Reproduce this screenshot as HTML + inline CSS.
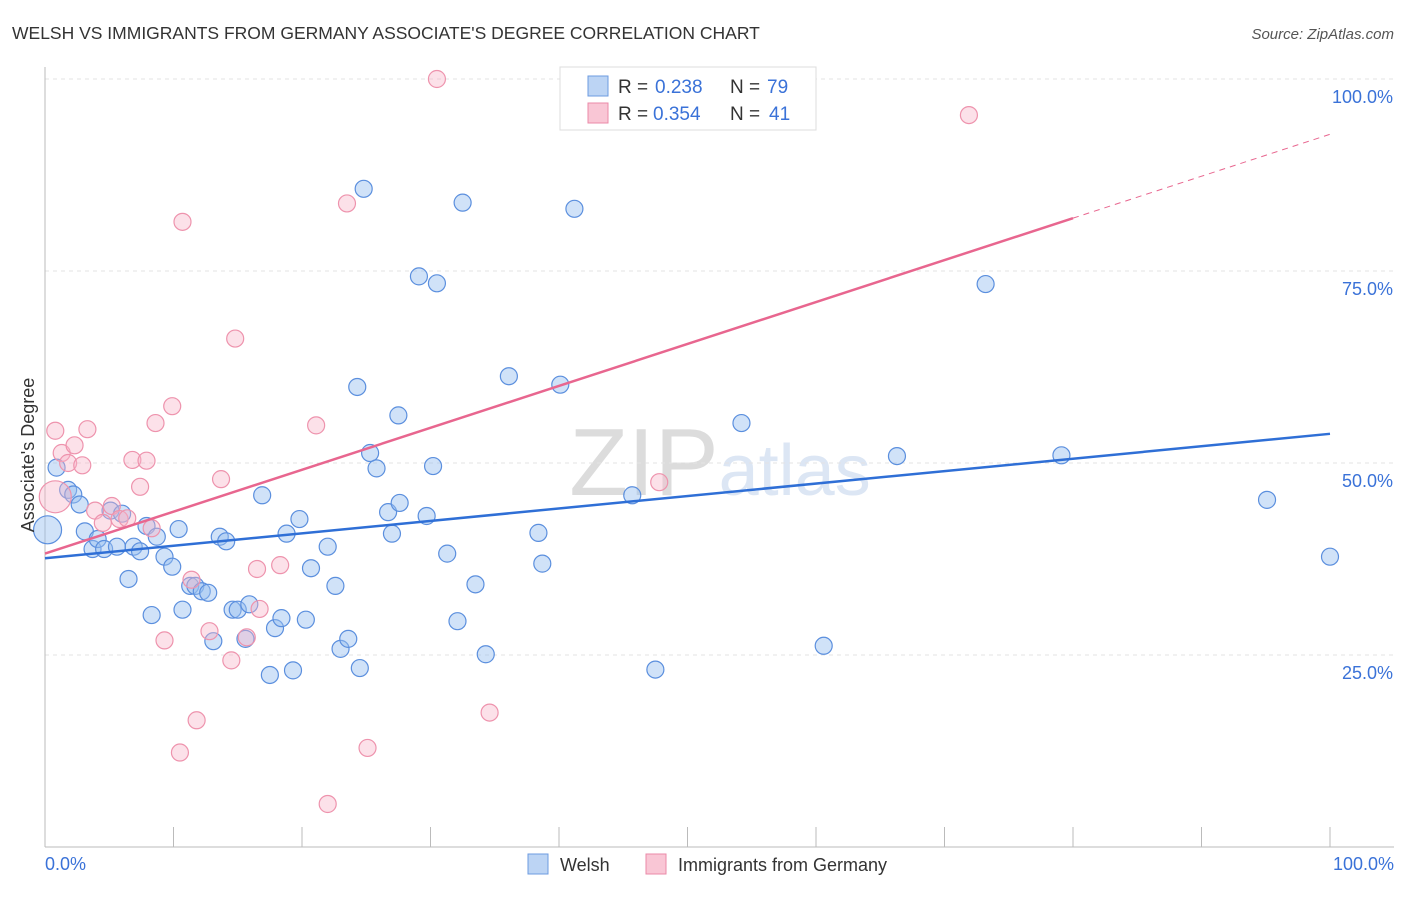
<!DOCTYPE html>
<html><head><meta charset="utf-8"><style>
body{margin:0;background:#fff;font-family:"Liberation Sans",sans-serif}
svg text{font-family:"Liberation Sans",sans-serif}
</style></head><body>
<svg id="c" width="1406" height="892" xmlns="http://www.w3.org/2000/svg">
<text x="12" y="39" font-size="17.5" fill="#333">WELSH VS IMMIGRANTS FROM GERMANY ASSOCIATE'S DEGREE CORRELATION CHART</text>
<text x="1394" y="39" font-size="15" fill="#555" font-style="italic" text-anchor="end">Source: ZipAtlas.com</text>
<text x="720" y="495" font-size="96" fill="#e4e4e4" text-anchor="middle" font-family="Liberation Serif"><tspan fill="#dcdcdc">ZIP</tspan><tspan fill="#dce6f4" font-family="Liberation Sans" font-size="72">atlas</tspan></text>
<g id="grid"></g><g id="axes"></g><g id="pts"></g><g id="lines"></g>
<text transform="translate(34,455) rotate(-90)" font-size="18" fill="#333" text-anchor="middle">Associate's Degree</text>
<text x="45" y="870" font-size="18" fill="#3a72d8">0.0%</text>
<text x="1394" y="870" font-size="18" fill="#3a72d8" text-anchor="end">100.0%</text>
<g>
<rect x="560" y="67" width="256" height="63" fill="#fff" stroke="#ddd"/>
<rect x="588" y="76" width="20" height="20" fill="#bcd4f4" stroke="#6d9be0"/>
<rect x="588" y="103" width="20" height="20" fill="#f9c6d5" stroke="#eb8aa8"/>
<text x="618" y="93" font-size="19" fill="#333">R =</text>
<text x="655" y="93" font-size="19" fill="#3a72d8">0.238</text>
<text x="730" y="93" font-size="19" fill="#333">N =</text>
<text x="767" y="93" font-size="19" fill="#3a72d8">79</text>
<text x="618" y="120" font-size="19" fill="#333">R =</text>
<text x="653" y="120" font-size="19" fill="#3a72d8">0.354</text>
<text x="730" y="120" font-size="19" fill="#333">N =</text>
<text x="769" y="120" font-size="19" fill="#3a72d8">41</text>
</g>
<g>
<rect x="528" y="854" width="20" height="20" fill="#bcd4f4" stroke="#6d9be0"/>
<text x="560" y="871" font-size="18" fill="#333">Welsh</text>
<rect x="646" y="854" width="20" height="20" fill="#f9c6d5" stroke="#eb8aa8"/>
<text x="678" y="871" font-size="18" fill="#333">Immigrants from Germany</text>
</g>
</svg>
<script>
const yTicks=[25,50,75,100];
const yTickLabels=["25.0%","50.0%","75.0%","100.0%"];
const welshX=[0.2,0.9,1.8,2.2,2.7,3.1,3.7,4.1,4.6,5.1,5.6,6.0,6.5,6.9,7.4,7.9,8.3,8.7,9.3,9.9,10.4,10.7,11.3,11.7,12.2,12.7,13.1,13.6,14.1,14.6,15.0,15.6,15.9,16.9,17.5,17.9,18.4,18.8,19.3,19.8,20.3,20.7,22.0,22.6,23.0,23.6,24.3,24.5,24.8,25.3,25.8,26.7,27.0,27.5,27.6,29.1,29.7,30.2,30.5,31.3,32.1,32.5,33.5,34.3,36.1,38.4,38.7,40.1,41.2,45.7,47.5,54.2,60.6,66.3,73.2,79.1,95.1,100.0];
const welshY=[41.3,49.4,46.5,45.9,44.6,41.1,38.8,40.1,38.8,43.8,39.1,43.4,34.9,39.1,38.5,41.8,30.2,40.4,37.8,36.5,41.4,30.9,34.0,34.0,33.3,33.1,26.8,40.4,39.8,30.9,30.9,27.1,31.6,45.8,22.4,28.5,29.8,40.8,23.0,42.7,29.6,36.3,39.1,34.0,25.8,27.1,59.9,23.3,85.7,51.3,49.3,43.6,40.8,56.2,44.8,74.3,43.1,49.6,73.4,38.2,29.4,83.9,34.2,25.1,61.3,40.9,36.9,60.2,83.1,45.8,23.1,55.2,26.2,50.9,73.3,51.0,45.2,37.8];
const germX=[0.8,0.8,1.3,1.8,2.3,2.9,3.3,3.9,4.5,5.2,5.8,6.4,6.8,7.4,7.9,8.3,8.6,9.3,9.9,10.5,10.7,11.4,11.8,12.8,13.7,14.5,14.8,15.7,16.5,16.7,18.3,21.1,22.0,23.5,25.1,30.5,34.6,47.8,71.9,50.0];
const germY=[54.2,45.6,51.3,50.0,52.3,49.7,54.4,43.8,42.2,44.4,42.7,42.8,50.4,46.9,50.3,41.5,55.2,26.9,57.4,12.3,81.4,34.8,16.5,28.1,47.9,24.3,66.2,27.3,36.2,31.0,36.7,54.9,5.6,83.8,12.9,100.0,17.5,47.5,95.3,100.0];
const welshTrend=[37.6,53.8];
const germTrend=[38.2,92.8];
const X=v=>45+v/100*1285, Y=v=>847-v/100*768;
const NS="http://www.w3.org/2000/svg";
function mk(p,t,a){const e=document.createElementNS(NS,t);for(const k in a)e.setAttribute(k,a[k]);document.getElementById(p).appendChild(e);return e;}
yTicks.forEach((t,i)=>{
 const l=mk('grid','line',{x1:45,x2:1394,y1:Y(t),y2:Y(t),stroke:'#e3e3e3','stroke-dasharray':'4,4'});
 
 
 const tx=mk('grid','text',{x:1393,y:Y(t)+24,'font-size':18,fill:'#3a72d8','text-anchor':'end'});
 tx.textContent=yTickLabels[i];
 
 
});
let a=mk('axes','line',{x1:45,x2:45,y1:67,y2:847,stroke:'#bbb'});


a=mk('axes','line',{x1:45,x2:1394,y1:847,y2:847,stroke:'#bbb'});


for(let i=1;i<=10;i++){const t=mk('axes','line',{x1:X(i*10),x2:X(i*10),y1:827,y2:847,stroke:'#bbb'});
 
 }
welshX.forEach((v,i)=>{const c=mk('pts','circle',{cx:X(v),cy:Y(welshY[i]),r:i==0?14:8.5,fill:'rgba(150,190,240,0.45)',stroke:'#5b8fde','stroke-width':1.2});
 
 });
germX.forEach((v,i)=>{const c=mk('pts','circle',{cx:X(v),cy:Y(germY[i]),r:i==1?16:8.5,fill:'rgba(248,180,200,0.4)',stroke:'#ee93ad','stroke-width':1.2});
 
 });
let ln=mk('lines','line',{x1:X(0),y1:Y(welshTrend[0]),x2:X(100),y2:Y(welshTrend[1]),stroke:'#2f6fd6','stroke-width':2.5});


const gy=x=>germTrend[0]+(germTrend[1]-germTrend[0])*x/100;
ln=mk('lines','line',{x1:X(0),y1:Y(gy(0)),x2:X(80),y2:Y(gy(80)),stroke:'#e8668f','stroke-width':2.5});


ln=mk('lines','line',{x1:X(80),y1:Y(gy(80)),x2:X(100),y2:Y(gy(100)),stroke:'#e8668f','stroke-width':1,'stroke-dasharray':'6,5'});


</script>
</body></html>
